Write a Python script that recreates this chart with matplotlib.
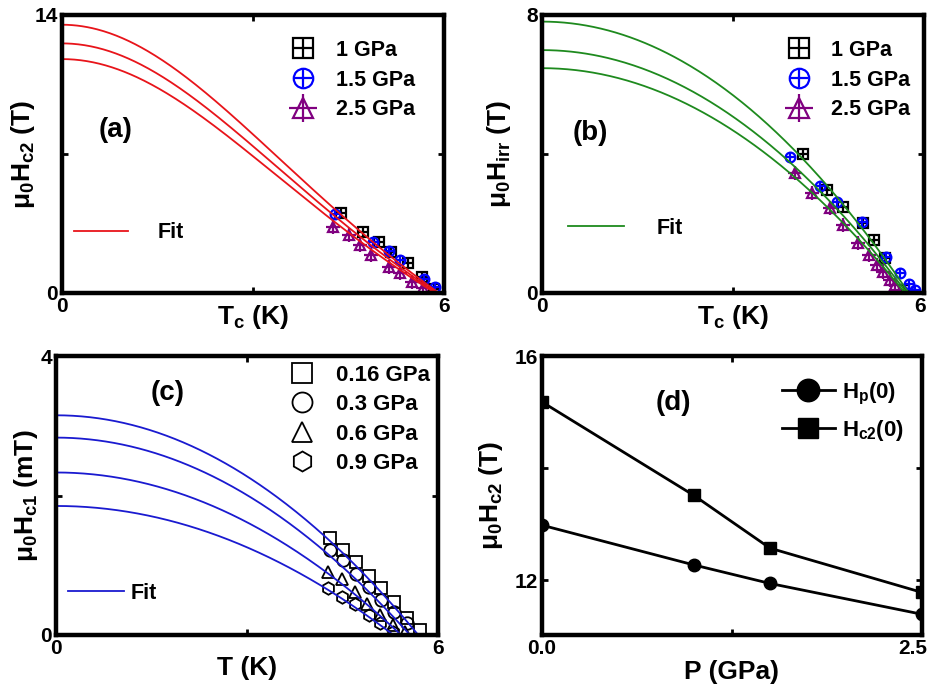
import numpy as np
import matplotlib
matplotlib.use('Agg')
import matplotlib.pyplot as plt
from matplotlib.transforms import ScaledTranslation

plt.rcParams['font.family'] = ['Liberation Sans', 'DejaVu Sans']
plt.rcParams['font.weight'] = 'bold'
plt.rcParams['axes.labelweight'] = 'bold'
plt.rcParams['mathtext.fontset'] = 'custom'
plt.rcParams['mathtext.rm'] = 'Liberation Sans:bold'
plt.rcParams['mathtext.it'] = 'Liberation Sans:bold'
plt.rcParams['mathtext.bf'] = 'Liberation Sans:bold'

# (a) upper critical field vs Tc
a_labels = ['1 GPa', '1.5 GPa', '2.5 GPa']
a_T_1 = [4.39, 4.72, 4.98, 5.16, 5.43, 5.65, 5.85]
a_H_1 = [4.01, 3.06, 2.55, 2.07, 1.53, 0.82, 0.22]
a_T_15 = [4.29, 4.89, 5.13, 5.31, 5.68, 5.86]
a_H_15 = [3.98, 2.59, 2.13, 1.66, 0.69, 0.29]
a_T_25 = [4.26, 4.50, 4.68, 4.86, 5.13, 5.31, 5.49, 5.67]
a_H_25 = [3.34, 2.92, 2.42, 1.91, 1.32, 0.99, 0.57, 0.24]
a_H0 = [13.51, 12.57, 11.78]
a_Tc = [5.92, 5.89, 5.86]

# (b) irreversibility field
b_T_1 = [4.10, 4.47, 4.73, 5.04, 5.22, 5.39, 5.68]
b_H_1 = [4.00, 2.95, 2.48, 2.01, 1.53, 1.00, 0.09]
b_T_15 = [3.90, 4.36, 4.63, 5.02, 5.41, 5.62, 5.77, 5.86]
b_H_15 = [3.92, 3.08, 2.63, 2.05, 1.04, 0.57, 0.26, 0.09]
b_T_25 = [3.97, 4.24, 4.52, 4.73, 4.97, 5.13, 5.26, 5.36, 5.47, 5.54]
b_H_25 = [3.44, 2.87, 2.44, 1.96, 1.43, 1.09, 0.81, 0.61, 0.37, 0.23]
b_H0 = [7.81, 6.99, 6.47]
b_Tc = [5.76, 5.73, 5.70]

# (c) lower critical field
c_labels = ['0.16 GPa', '0.3 GPa', '0.6 GPa', '0.9 GPa']
c_T_016 = [4.30, 4.51, 4.71, 4.91, 5.11, 5.31, 5.52, 5.71]
c_H_016 = [1.39, 1.22, 1.04, 0.84, 0.67, 0.47, 0.24, 0.07]
c_T_03 = [4.30, 4.50, 4.71, 4.91, 5.11, 5.31, 5.52]
c_H_03 = [1.22, 1.08, 0.87, 0.69, 0.50, 0.33, 0.17]
c_T_06 = [4.28, 4.49, 4.70, 4.88, 5.09, 5.30, 5.48]
c_H_06 = [0.91, 0.80, 0.62, 0.45, 0.29, 0.14, 0.05]
c_T_09 = [4.28, 4.49, 4.70, 4.91, 5.09, 5.30]
c_H_09 = [0.67, 0.55, 0.45, 0.29, 0.17, 0.05]
c_H0 = [3.15, 2.83, 2.33, 1.85]
c_Tc = [5.69, 5.56, 5.42, 5.30]

# (d) zero temperature fields vs pressure
d_P = [0.0, 1.0, 1.5, 2.5]
d_Hp = [12.98, 12.27, 11.94, 11.39]
d_Hc2 = [15.18, 13.51, 12.57, 11.78]


def gl_fit(T, H0, Tc):
    t = T / Tc
    return H0 * (1 - t**2) / (1 + t**2)


def parab_fit(T, H0, Tc):
    t = T / Tc
    return H0 * (1 - t**2)


W, H = 934, 691
fig = plt.figure(figsize=(W / 100, H / 100), dpi=100)


def box(l, t, r, b):
    return [l / W, 1 - b / H, (r - l) / W, (b - t) / H]


axa = fig.add_axes(box(62, 15, 444, 293))
axb = fig.add_axes(box(542, 15, 924, 293))
axc = fig.add_axes(box(56, 356, 438, 635))
axd = fig.add_axes(box(542, 356, 922, 635))

TICK_FS = 15
LAB_FS = 19
LEG_FS = 15.5
PAN_FS = 20


def style(ax, xt, xl, yt, yl):
    ax.set_xticks(xt, xl)
    ax.set_yticks(yt, yl)
    ax.set_xlim(xt[0], xt[-1])
    for s in ax.spines.values():
        s.set_linewidth(3.2)
    ax.tick_params(direction='in', length=4, width=2, top=True, right=True,
                   labelsize=TICK_FS, pad=3)


LW = 1.3
MS = 7


def cross_marks(ax, T, Hv, shape, color, ps=1.0):
    l1, = ax.plot(T, Hv, ls='none', marker=shape, ms=MS, mfc='none', mec=color, mew=1.6)
    l2, = ax.plot(T, Hv, ls='none', marker='+', ms=MS * ps, mec=color, mew=1.6)
    return (l1, l2)


def panel_ab(ax, Ts, Hs, H0s, Tcs, fitcol, fitfun):
    hs = []
    for T, Hv, shape, col, ps in zip(Ts, Hs, ['s', 'o', '^'],
                                     ['black', 'blue', 'purple'], [0.9, 0.95, 1.4]):
        hs.append(cross_marks(ax, T, Hv, shape, col, ps))
    for H0, Tc in zip(H0s, Tcs):
        tt = np.linspace(0, Tc, 300)
        fl, = ax.plot(tt, fitfun(tt, H0, Tc), color=fitcol, lw=LW)
    return hs, fl


def leg_kw(**kw):
    d = dict(loc='center left', frameon=False, borderpad=0, borderaxespad=0)
    d.update(kw)
    return d


# ---- (a)
hs, fl = panel_ab(axa, [a_T_1, a_T_15, a_T_25], [a_H_1, a_H_15, a_H_25],
                  a_H0, a_Tc, '#e8141a', gl_fit)
style(axa, [0, 3, 6], ['0', '', '6'], [0, 7, 14], ['0', '', '14'])
axa.set_ylim(0, 14)
leg = axa.legend(hs, a_labels, **leg_kw(bbox_to_anchor=(0.603, 0.766), fontsize=LEG_FS,
                 markerscale=2, handlelength=1.0, handletextpad=1.05, labelspacing=0.4))
axa.add_artist(leg)
axa.legend([fl], ['Fit'], **leg_kw(bbox_to_anchor=(0.031, 0.216), fontsize=LEG_FS,
           handlelength=2.5, handletextpad=1.4))
axa.text(0.139, 0.586, '(a)', transform=axa.transAxes, fontsize=PAN_FS,
         ha='center', va='center')
axa.set_ylabel(r'$\mu_0H_{c2}$ (T)', fontsize=LAB_FS)
axa.set_xlabel(r'$T_c$ (K)', fontsize=LAB_FS)
axa.yaxis.set_label_coords(-0.065, 0.5)
axa.xaxis.set_label_coords(0.5, -0.035)

# ---- (b)
hs, fl = panel_ab(axb, [b_T_1, b_T_15, b_T_25], [b_H_1, b_H_15, b_H_25],
                  b_H0, b_Tc, '#1e8a1e', parab_fit)
style(axb, [0, 3, 6], ['0', '', '6'], [0, 4, 8], ['0', '', '8'])
axb.set_ylim(0, 8)
leg = axb.legend(hs, a_labels, **leg_kw(bbox_to_anchor=(0.645, 0.766), fontsize=LEG_FS,
                 markerscale=2, handlelength=1.0, handletextpad=1.0, labelspacing=0.4))
axb.add_artist(leg)
axb.legend([fl], ['Fit'], **leg_kw(bbox_to_anchor=(0.068, 0.232), fontsize=LEG_FS,
           handlelength=2.6, handletextpad=1.5))
axb.text(0.126, 0.576, '(b)', transform=axb.transAxes, fontsize=PAN_FS,
         ha='center', va='center')
axb.set_ylabel(r'$\mu_0H_{irr}$ (T)', fontsize=LAB_FS)
axb.set_xlabel(r'$T_c$ (K)', fontsize=LAB_FS)
axb.yaxis.set_label_coords(-0.076, 0.5)
axb.xaxis.set_label_coords(0.5, -0.035)
# keep the right "6" inside the canvas
lbl = axb.get_xticklabels()[-1]
lbl.set_transform(lbl.get_transform() + ScaledTranslation(-4 / 100, 0, fig.dpi_scale_trans))

# ---- (c)
hs = []
for T, Hv, m in zip([c_T_016, c_T_03, c_T_06, c_T_09],
                    [c_H_016, c_H_03, c_H_06, c_H_09], ['s', 'o', '^', 'h']):
    l, = axc.plot(T, Hv, ls='none', marker=m, ms=9, mfc='none', mec='black', mew=1.3)
    hs.append(l)
for H0, Tc in zip(c_H0, c_Tc):
    tt = np.linspace(0, Tc, 300)
    fl, = axc.plot(tt, parab_fit(tt, H0, Tc), color='#1a1ad0', lw=LW)
style(axc, [0, 3, 6], ['0', '', '6'], [0, 2, 4], ['0', '', '4'])
axc.set_ylim(0, 4)
leg = axc.legend(hs, c_labels, **leg_kw(bbox_to_anchor=(0.616, 0.773), fontsize=16,
                 markerscale=1.6, handlelength=1.0, handletextpad=1.0, labelspacing=0.38))
axc.add_artist(leg)
axc.legend([fl], ['Fit'], **leg_kw(bbox_to_anchor=(0.031, 0.149), fontsize=LEG_FS,
           handlelength=2.6, handletextpad=0.3))
axc.text(0.293, 0.867, '(c)', transform=axc.transAxes, fontsize=PAN_FS,
         ha='center', va='center')
axc.set_ylabel(r'$\mu_0H_{c1}$ (mT)', fontsize=LAB_FS)
axc.set_xlabel('T (K)', fontsize=LAB_FS)
axc.yaxis.set_label_coords(-0.042, 0.5)
axc.xaxis.set_label_coords(0.5, -0.075)

# ---- (d)
lp, = axd.plot(d_P, d_Hp, color='black', lw=2, marker='o', ms=9)
lc, = axd.plot(d_P, d_Hc2, color='black', lw=2, marker='s', ms=8)
style(axd, [0, 1.25, 2.5], ['0.0', '', '2.5'], [12, 14, 16], ['12', '', '16'])
axd.set_ylim(11.02, 16)
axd.legend([lp, lc], [r'$H_p$(0)', r'$H_{c2}$(0)'],
           **leg_kw(bbox_to_anchor=(0.631, 0.80), fontsize=16, markerscale=1.8,
                    handlelength=2.4, handletextpad=0.3, labelspacing=0.5))
axd.text(0.345, 0.832, '(d)', transform=axd.transAxes, fontsize=PAN_FS,
         ha='center', va='center')
axd.set_ylabel(r'$\mu_0H_{c2}$ (T)', fontsize=LAB_FS)
axd.set_xlabel('P (GPa)', fontsize=LAB_FS)
axd.yaxis.set_label_coords(-0.097, 0.5)
axd.xaxis.set_label_coords(0.5, -0.09)
# keep "2.5" inside the canvas
lbl = axd.get_xticklabels()[-1]
lbl.set_transform(lbl.get_transform() + ScaledTranslation(-9 / 100, 0, fig.dpi_scale_trans))

fig.savefig('out.png', dpi=100)
